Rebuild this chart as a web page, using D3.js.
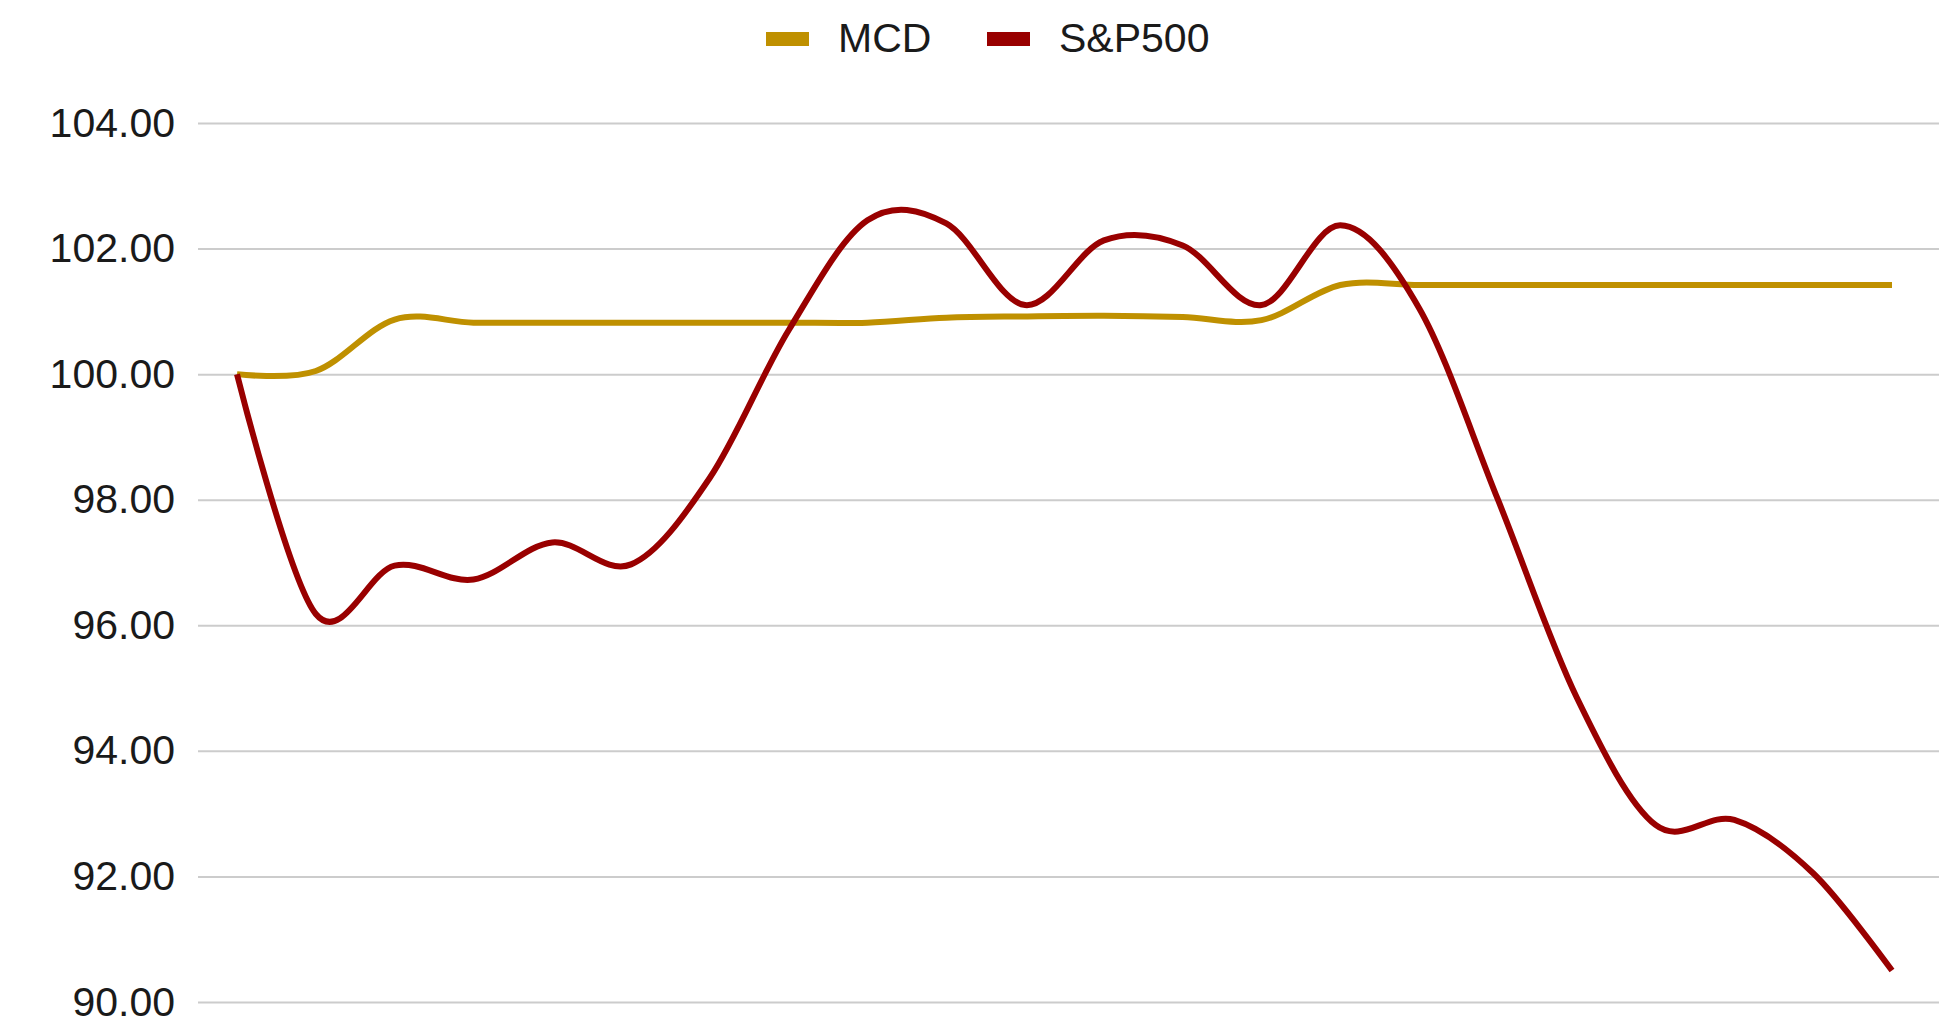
<!DOCTYPE html>
<html>
<head>
<meta charset="utf-8">
<script src="https://cdn.jsdelivr.net/npm/d3@7"></script>
<style>
  body { margin: 0; background: #fff; }
  svg { display: block; font-family: 'Liberation Sans', Arial, sans-serif; }
</style>
</head>
<body>
<div id="chart"></div>
<script>
// trading days (no x labels shown in the chart)
const days = d3.range(1, 23).map(String)

const mcd = [100.00, 100.05, 100.87, 100.82, 100.82, 100.82, 100.82, 100.82, 100.82, 100.90, 100.92,
             100.93, 100.91, 100.86, 101.42, 101.42, 101.42, 101.42, 101.42, 101.42, 101.42, 101.42]

const sp500 = [100.00, 96.18, 96.95, 96.73, 97.32, 96.97, 98.35, 100.70, 102.45, 102.40, 101.10,
               102.13, 102.05, 101.10, 102.37, 101.05, 98.00, 94.85, 92.82, 92.90, 92.05, 90.50]

const yTicks = [90, 92, 94, 96, 98, 100, 102, 104]

const series = [
  { name: 'MCD', values: mcd, color: '#bf9000' },
  { name: 'S&P500', values: sp500, color: '#990000' }
]

const width = 1942,
      height = 1018,
      margin = { top: 123, right: 3, bottom: 16, left: 198 },
      lineStart = 237,
      lineEnd = 1892

const svg = d3.select('#chart').append('svg')
    .attr('width', width)
    .attr('height', height)

let xScale = d3.scalePoint()
    .domain(days)
    .range([lineStart, lineEnd])

let yScale = d3.scaleLinear()
    .domain([90, 104])
    .range([height - margin.bottom, margin.top])

// gridlines + labels via the axis
let axisLeft = svg.append('g')
    .attr('transform', `translate(${margin.left}, 0)`)
    .call(d3.axisLeft(yScale)
      .tickValues(yTicks)
      .tickFormat(d3.format('.2f'))
      .tickSize(-(width - margin.left - margin.right))
      .tickPadding(23))

axisLeft.select('.domain').remove()
axisLeft.selectAll('.tick line')
    .attr('stroke', '#cccccc')
    .attr('stroke-width', 2)
axisLeft.selectAll('.tick text')
    .attr('fill', '#1a1a1a')
    .style('font-size', '41px')

const line = d3.line()
    .x((d, i) => xScale(days[i]))
    .y(d => yScale(d))
    .curve(d3.curveCardinal.tension(0))

svg.append('g')
  .selectAll('path')
  .data(series)
  .enter()
  .append('path')
    .attr('d', d => line(d.values))
    .attr('fill', 'none')
    .attr('stroke', d => d.color)
    .attr('stroke-width', 6)
    .attr('stroke-linejoin', 'round')

// legend on top
const legendX = [766, 987]
let legend = svg.append('g')
  .selectAll('g')
  .data(series)
  .enter()
  .append('g')
    .attr('transform', (d, i) => `translate(${legendX[i]}, 0)`)

legend.append('rect')
    .attr('y', 32)
    .attr('width', 43)
    .attr('height', 14)
    .attr('fill', d => d.color)

legend.append('text')
    .attr('x', 72)
    .attr('y', 52)
    .attr('fill', '#1a1a1a')
    .style('font-size', '41px')
    .text(d => d.name)
</script>
</body>
</html>
